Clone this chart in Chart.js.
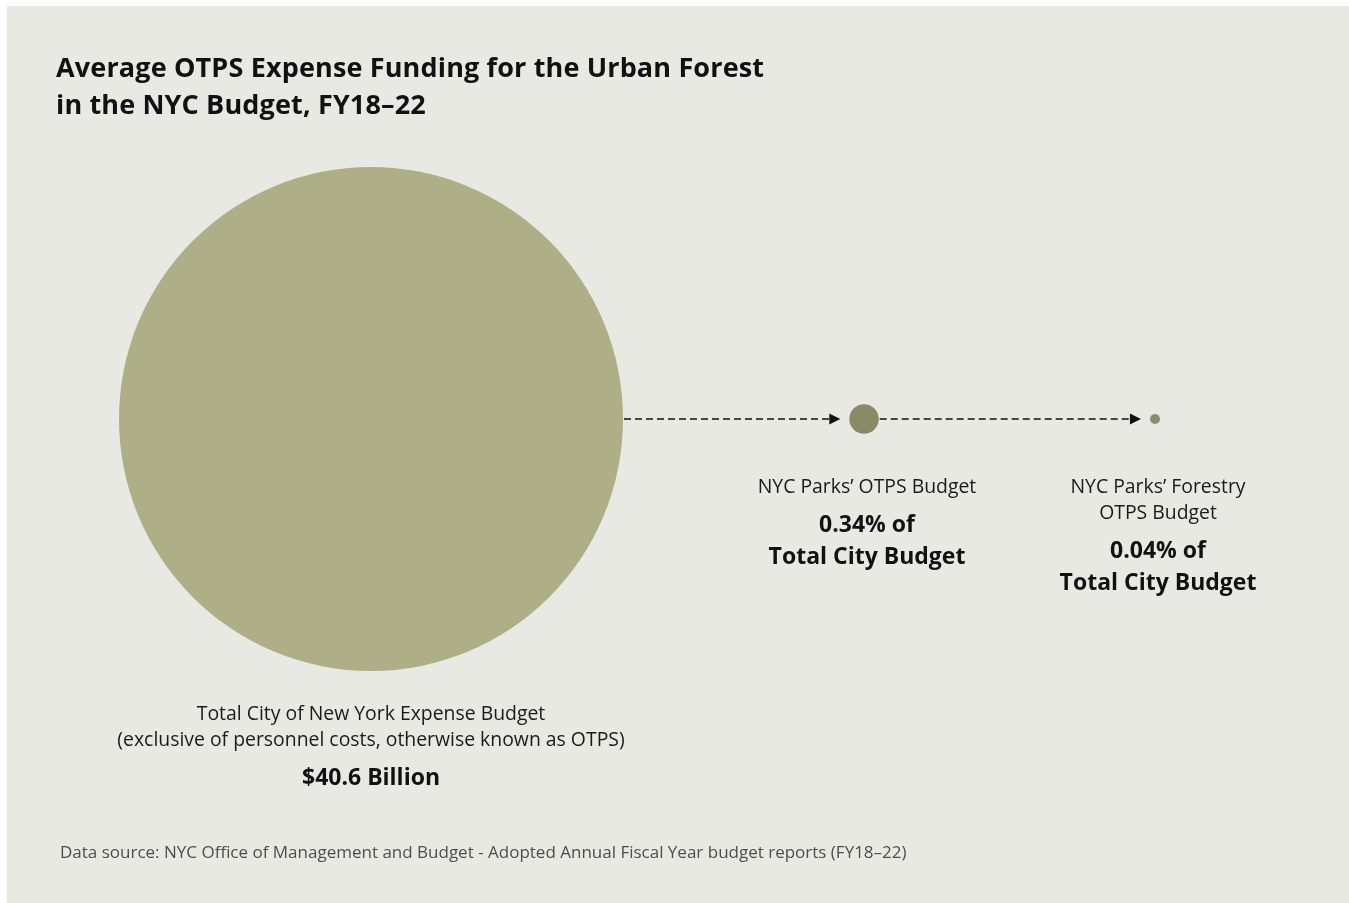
<!DOCTYPE html>
<html>
<head>
<meta charset="utf-8">
<script src="https://cdn.jsdelivr.net/npm/chart.js@4/dist/chart.umd.min.js"></script>
<style>
  html, body { margin: 0; padding: 0; background: #fff; }
  .page { position: relative; width: 1349px; height: 903px; overflow: hidden; }
  .panel { position: absolute; left: 7px; top: 6px; right: 0; bottom: 0; background: #E9E9E4; }
  .chart-box { position: absolute; left: 0; top: 0; width: 1349px; height: 903px; }
  h1 { position: absolute; left: 56px; top: 48px; margin: 0; font: 700 27px "Open Sans", sans-serif;
       line-height: 37px; letter-spacing: 0.15px; color: #111; }
  .source { position: absolute; left: 60px; top: 840px; font: 400 17px "Open Sans", sans-serif; color: #4d4d4d; }
</style>
</head>
<body>
<div class="page">
  <div class="panel"></div>
  <div class="chart-box"><canvas id="bubbles"></canvas></div>
  <h1>Average OTPS Expense Funding for the Urban Forest<br>in the NYC Budget, FY18–22</h1>
  <div class="source">Data source: NYC Office of Management and Budget - Adopted Annual Fiscal Year budget reports (FY18–22)</div>
</div>
<script>
// data: share of total city OTPS budget (percent)
var categories = ["Total City of New York Expense Budget", "NYC Parks’ OTPS Budget", "NYC Parks’ Forestry OTPS Budget"];
var shares = [100, 0.34, 0.04];
var nameLines = [
    ["Total City of New York Expense Budget", "(exclusive of personnel costs, otherwise known as OTPS)"],
    ["NYC Parks’ OTPS Budget"],
    ["NYC Parks’ Forestry", "OTPS Budget"]
];
var valueLines = [
    ["$40.6 Billion"],
    ["0.34% of", "Total City Budget"],
    ["0.04% of", "Total City Budget"]
];

// layout
var bubbleX = [371, 864, 1155];
var axisY = 419;
var maxRadius = 252;
var labelTop = [714, 487, 487];
var colors = ['#AEAF87', '#8A8A69', '#8A8F6A'];

var points = shares.map(function (s, i) {
    return { x: bubbleX[i], y: axisY, r: maxRadius * Math.sqrt(s / 100) };
});

var arrowPlugin = {
    id: 'arrows',
    afterDatasetsDraw: function (chart) {
        var ctx = chart.ctx;
        var els = chart.getDatasetMeta(0).data;
        ctx.save();
        for (var i = 1; i < els.length; i++) {
            var a = els[i - 1], b = els[i];
            var x0 = a.x + a.options.radius + 1;
            var tip = b.x - b.options.radius - 9;
            var head = 11;
            ctx.strokeStyle = '#111';
            ctx.lineWidth = 1.5;
            ctx.setLineDash([7, 4]);
            ctx.beginPath();
            ctx.moveTo(x0, a.y);
            ctx.lineTo(tip - head, a.y);
            ctx.stroke();
            ctx.setLineDash([]);
            ctx.fillStyle = '#111';
            ctx.beginPath();
            ctx.moveTo(tip, a.y);
            ctx.lineTo(tip - head, a.y - 5.5);
            ctx.lineTo(tip - head, a.y + 5.5);
            ctx.closePath();
            ctx.fill();
        }
        ctx.restore();
    }
};

var labelPlugin = {
    id: 'bubbleLabels',
    afterDraw: function (chart) {
        var ctx = chart.ctx;
        var els = chart.getDatasetMeta(0).data;
        ctx.save();
        ctx.textAlign = 'center';
        ctx.textBaseline = 'middle';
        els.forEach(function (el, i) {
            var y = labelTop[i];
            var cx = el.x + (i ? 3 : 0);
            ctx.fillStyle = '#1a1a1a';
            ctx.font = '400 19.4px "Open Sans", sans-serif';
            nameLines[i].forEach(function (t, k) {
                ctx.fillText(t, cx, y + k * 26);
            });
            y += (nameLines[i].length - 1) * 26 + 38;
            ctx.font = '700 23px "Open Sans", sans-serif';
            ctx.fillStyle = '#111';
            valueLines[i].forEach(function (t, k) {
                ctx.fillText(t, cx, y + k * 32);
            });
        });
        ctx.restore();
    }
};

new Chart(document.getElementById('bubbles'), {
    type: 'bubble',
    data: {
        labels: categories,
        datasets: [{
            data: points,
            backgroundColor: colors,
            borderWidth: 0,
            hoverRadius: 0,
            clip: false
        }]
    },
    options: {
        responsive: true,
        maintainAspectRatio: false,
        animation: false,
        events: [],
        layout: { padding: 0, autoPadding: false },
        plugins: { legend: { display: false }, tooltip: { enabled: false } },
        scales: {
            x: { display: false, min: 0, max: 1349 },
            y: { display: false, min: 0, max: 903, reverse: true }
        }
    },
    plugins: [arrowPlugin, labelPlugin]
});
</script>
</body>
</html>
